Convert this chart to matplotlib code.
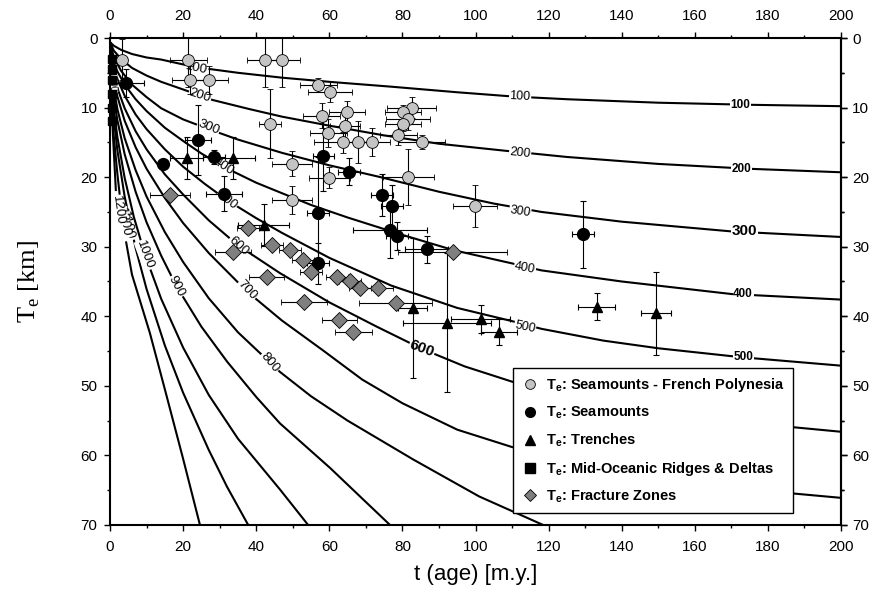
import matplotlib
matplotlib.use("Agg")
import matplotlib.pyplot as plt
from matplotlib.lines import Line2D

plt.rcParams["font.family"] = ["Liberation Sans", "DejaVu Sans"]
plt.rcParams["mathtext.fontset"] = "custom"
plt.rcParams["mathtext.rm"] = "Liberation Sans"
plt.rcParams["mathtext.bf"] = "Liberation Sans:bold"

# isotherms (deg C): age [m.y.] vs depth [km]
ISO_TEMPS = [100, 200, 300, 400, 500, 600, 700, 800, 900, 1000, 1100, 1200, 1300]

ISO_100_T = [0, 1, 3, 6, 10, 14, 20, 25, 35, 47, 60, 77, 95, 110, 125, 150, 175, 200]
ISO_100_Z = [0.6, 1.1, 1.7, 2.3, 2.8, 3.1, 3.8, 4.3, 5.0, 5.7, 6.3, 7.0, 7.8, 8.4, 8.8, 9.3, 9.6, 9.8]

ISO_200_T = [0, 1, 3, 6, 10, 14, 20, 28, 38, 47, 60, 75, 90, 108, 125, 150, 175, 200]
ISO_200_Z = [0.6, 1.8, 3.0, 4.3, 5.4, 6.3, 7.4, 8.9, 10.2, 11.3, 12.6, 14.0, 15.2, 16.2, 17.1, 18.1, 18.8, 19.3]

ISO_300_T = [0, 1, 3, 6, 10, 14, 20, 27, 35, 47, 60, 74, 90, 105, 118, 140, 170, 200]
ISO_300_Z = [0.6, 2.7, 4.7, 6.7, 8.5, 10.1, 11.7, 13.1, 14.6, 16.5, 18.3, 20.0, 22.1, 23.8, 25.0, 26.4, 27.8, 28.6]

ISO_400_T = [0, 1, 2, 4, 7, 10, 15, 20, 25, 31, 40, 47, 55, 65, 80, 94, 110, 118, 140, 170, 200]
ISO_400_Z = [0.6, 3.5, 4.8, 6.7, 8.8, 10.5, 12.9, 14.8, 16.6, 18.5, 20.8, 22.3, 24.0, 25.8, 28.3, 30.5, 32.4, 33.4, 35.0, 36.8, 37.6]

ISO_500_T = [0, 1, 2, 4, 7, 10, 15, 20, 26, 32, 40, 47, 60, 77, 95, 110, 118, 135, 150, 173, 200]
ISO_500_Z = [0.6, 4.2, 5.9, 8.3, 11.0, 13.1, 16.0, 18.5, 21.0, 23.3, 25.9, 28.0, 31.6, 35.6, 38.8, 40.7, 41.8, 43.5, 44.6, 45.9, 47.1]

ISO_600_T = [0, 1, 2, 4, 7, 10, 15, 20, 27, 35, 46.5, 60, 73, 85, 97, 110, 125, 140, 170, 200]
ISO_600_Z = [0.6, 5.1, 7.2, 10.1, 13.4, 16.0, 19.6, 22.5, 26.2, 29.8, 33.8, 38.0, 41.5, 44.6, 47.2, 49.4, 51.3, 52.8, 55.1, 56.6]

ISO_700_T = [0, 1, 2, 4, 7, 10, 15, 20, 27, 37.4, 47, 58, 69, 80, 95, 110, 130, 150, 175, 200]
ISO_700_Z = [0.6, 6.0, 8.4, 11.9, 15.7, 18.8, 23.0, 26.6, 30.9, 36.4, 40.6, 44.8, 49.1, 52.5, 56.3, 58.8, 61.3, 63.2, 64.9, 66.1]

ISO_800_T = [0, 1, 2, 4, 7, 10, 15, 20, 27, 35, 46.5, 55, 65, 83, 101, 118.5]
ISO_800_Z = [0.6, 7.2, 10.2, 14.4, 19.0, 22.8, 27.9, 32.2, 37.4, 42.3, 48.0, 51.5, 55.0, 60.6, 65.9, 70.0]

ISO_900_T = [0, 0.5, 1, 2, 4, 7, 10, 14, 18.2, 25, 32, 40, 46.5, 60.2, 76.6]
ISO_900_Z = [0.6, 5.9, 8.4, 11.8, 16.7, 22.1, 26.5, 31.3, 35.7, 41.5, 46.5, 51.6, 55.4, 61.8, 70.0]

ISO_1000_T = [0, 0.5, 1, 2, 4, 6.5, 9.6, 14, 20, 27, 35, 46.5, 54.2]
ISO_1000_Z = [0.6, 7.1, 10.1, 14.2, 20.1, 25.7, 31.2, 37.5, 44.5, 51.3, 57.6, 64.9, 70.0]

ISO_1100_T = [0, 0.5, 1, 2, 4, 7, 10, 15, 20, 27, 32, 37.8]
ISO_1100_Z = [0.6, 8.1, 11.4, 16.1, 22.8, 30.2, 36.1, 44.2, 51.0, 59.2, 64.5, 70.0]

ISO_1200_T = [0, 0.5, 1, 2, 3.6, 6, 10.9, 15, 20, 24.6]
ISO_1200_Z = [0.6, 10.0, 14.0, 19.5, 27.0, 34.0, 42.4, 50.5, 60.5, 70.0]

ISO_1300_T = [0, 0.3, 0.8, 1.2, 1.6]
ISO_1300_Z = [0.6, 8.0, 14.0, 18.0, 22.0]

ISO_T = [ISO_100_T, ISO_200_T, ISO_300_T, ISO_400_T, ISO_500_T, ISO_600_T, ISO_700_T,
         ISO_800_T, ISO_900_T, ISO_1000_T, ISO_1100_T, ISO_1200_T, ISO_1300_T]
ISO_Z = [ISO_100_Z, ISO_200_Z, ISO_300_Z, ISO_400_Z, ISO_500_Z, ISO_600_Z, ISO_700_Z,
         ISO_800_Z, ISO_900_Z, ISO_1000_Z, ISO_1100_Z, ISO_1200_Z, ISO_1300_Z]

# Te estimates: age, Te, age error, Te error
FP_T = [3.2, 21.4, 21.9, 27.2, 42.4, 47.0, 43.8, 49.7, 49.7, 57.0, 60.2, 57.9, 64.8, 64.3,
        59.7, 63.8, 67.9, 71.6, 82.5, 80.2, 81.6, 80.2, 78.9, 85.3, 81.6, 99.9, 60.0]
FP_Z = [3.1, 3.1, 6.0, 6.0, 3.1, 3.1, 12.3, 18.1, 23.3, 6.8, 7.7, 11.2, 10.6, 12.6,
        13.7, 15.0, 15.0, 15.0, 10.0, 10.6, 11.7, 12.4, 13.9, 15.0, 20.0, 24.1, 20.1]
FP_TERR = [1.5, 5, 5, 5, 5, 5, 3, 5.5, 5.5, 5, 6, 5, 5, 4,
           5, 8, 4, 5, 6.8, 5, 6, 5, 5, 6.4, 7, 6, 5.6]
FP_ZERR = [3, 4, 2, 2, 4, 4, 5, 1.8, 2, 1, 1.5, 1.8, 1.5, 2,
           2, 1.5, 3, 2, 1.5, 1, 1.5, 1, 1.5, 1, 4, 3, 1.5]

SM_T = [4.4, 14.4, 24.0, 28.5, 31.2, 58.4, 65.5, 56.8, 74.5, 77.2, 76.6, 78.4, 86.6, 57.0, 129.5]
SM_Z = [6.5, 18.1, 14.7, 17.1, 22.4, 17.0, 19.2, 25.1, 22.6, 24.2, 27.6, 28.5, 30.4, 32.4, 28.2]
SM_TERR = [5, 0, 3.5, 3, 5, 3, 3, 3, 3, 3, 10, 3, 6, 3, 3]
SM_ZERR = [2, 0, 5, 1, 2.5, 5, 2, 8, 3, 3, 4, 2, 2, 3, 4.8]

TR_T = [21.0, 33.7, 42.0, 82.8, 92.1, 101.4, 106.4, 133.1, 149.4]
TR_Z = [17.2, 17.2, 26.9, 38.8, 40.9, 40.4, 42.2, 38.6, 39.6]
TR_TERR = [4.5, 6, 7, 4, 12, 8, 5, 5, 4]
TR_ZERR = [3, 3, 3, 10, 10, 2, 2, 2, 6]

MOR_T = [0.5, 0.5, 0.5, 0.5, 0.5, 0.5]
MOR_Z = [3.0, 4.5, 6.0, 8.0, 10.0, 12.0]

FZ_T = [16.4, 37.8, 33.7, 44.2, 49.2, 42.9, 52.9, 54.9, 62.0, 65.7, 68.4, 73.4, 78.2,
        53.1, 62.7, 66.6, 93.7]
FZ_Z = [22.6, 27.3, 30.8, 29.7, 30.5, 34.3, 31.9, 33.6, 34.4, 35.0, 36.0, 36.0, 38.1,
        37.9, 40.6, 42.3, 30.7]
FZ_TERR = [5.5, 3, 5, 3, 3, 4.8, 3, 3, 3, 3, 3, 4, 10, 6.3, 4.8, 5, 15]

LEGEND_LABELS = [
    r"$\mathbf{T_e}$: Seamounts - French Polynesia",
    r"$\mathbf{T_e}$: Seamounts",
    r"$\mathbf{T_e}$: Trenches",
    r"$\mathbf{T_e}$: Mid-Oceanic Ridges & Deltas",
    r"$\mathbf{T_e}$: Fracture Zones",
]

fig = plt.figure(figsize=(8.74, 5.92), dpi=100)
ax = fig.add_axes([0.1259, 0.1132, 0.8364, 0.8226])

for ts, zs in zip(ISO_T, ISO_Z):
    ax.plot(ts, zs, color="black", lw=1.5, zorder=1, solid_capstyle="butt")

# contour labels: (age, depth, text, rotation, size, weight)
iso_labels = [
    (23.7, 4.3, "100", -12, 9.5, "normal"),
    (24.6, 8.3, "200", -18, 9.5, "normal"),
    (26.9, 12.9, "300", -22, 9.5, "normal"),
    (31.0, 18.4, "400", -33, 9.5, "normal"),
    (31.9, 23.4, "500", -38, 9.5, "normal"),
    (35.1, 29.9, "600", -42, 9.5, "normal"),
    (37.4, 36.3, "700", -47, 9.5, "normal"),
    (43.8, 46.6, "800", -50, 9.5, "normal"),
    (18.2, 35.7, "900", -62, 9.5, "normal"),
    (9.6, 31.2, "1000", -70, 9.5, "normal"),
    (4.6, 27.0, "1100", -78, 9.5, "normal"),
    (3.6, 26.5, "1300", -80, 9.5, "normal"),
    (2.2, 24.8, "1200", -82, 9.5, "normal"),
    (0.6, 6.6, "500", -86, 7, "normal"),
    (112.2, 8.4, "100", -3, 9, "normal"),
    (112.2, 16.5, "200", -6, 9, "normal"),
    (112.2, 24.9, "300", -9, 9, "normal"),
    (113.5, 33.1, "400", -11, 9, "normal"),
    (113.5, 41.6, "500", -12, 9, "normal"),
    (85.3, 44.7, "600", -20, 11, "bold"),
    (172.4, 9.6, "100", 0, 8.5, "bold"),
    (172.8, 18.9, "200", 0, 8.5, "bold"),
    (173.7, 27.7, "300", 0, 11, "bold"),
    (173.2, 36.8, "400", 0, 8.5, "bold"),
    (173.2, 45.8, "500", 0, 8.5, "bold"),
]
for t, z, s, rot, size, weight in iso_labels:
    ax.text(t, z, s, rotation=rot, fontsize=size, fontweight=weight, ha="center", va="center",
            rotation_mode="anchor", zorder=2,
            bbox=dict(boxstyle="square,pad=0.05", fc="white", ec="none"))

eb = dict(ecolor="black", elinewidth=0.8, capsize=2.5, capthick=0.8, linestyle="none", zorder=3)
ax.errorbar(FP_T, FP_Z, xerr=FP_TERR, yerr=FP_ZERR, fmt="o", ms=8.5, mfc="#c4c4c4",
            mec="black", mew=0.6, **eb)
ax.errorbar(SM_T, SM_Z, xerr=SM_TERR, yerr=SM_ZERR, fmt="o", ms=8.5, mfc="black",
            mec="black", **eb)
ax.errorbar(TR_T, TR_Z, xerr=TR_TERR, yerr=TR_ZERR, fmt="^", ms=7.5, mfc="black",
            mec="black", **eb)
ax.plot(MOR_T, MOR_Z, "s", ms=6, color="black", zorder=3, clip_on=False)
ax.errorbar(FZ_T, FZ_Z, xerr=FZ_TERR, fmt="D", ms=8, mfc="#7f7f7f", mec="black",
            mew=0.6, **eb)

ax.set_xlim(0, 200)
ax.set_ylim(70, 0)
ax.set_xticks(range(0, 201, 20))
ax.set_xticks(range(0, 201, 10), minor=True)
ax.set_yticks(range(0, 71, 10))
ax.set_yticks(range(0, 71, 5), minor=True)
ax.tick_params(which="both", direction="out", top=True, right=True, labeltop=True,
               labelsize=11, width=1)
ax.tick_params(which="major", length=4)
ax.tick_params(which="minor", length=2.5)
ax.tick_params(axis="x", pad=7)
ax.tick_params(axis="y", pad=5)
ax.tick_params(axis="y", labelright=False)
for sp in ax.spines.values():
    sp.set_linewidth(1.5)

sec = ax.secondary_yaxis("right")
sec.set_yticks(range(0, 71, 10))
sec.set_yticks(range(0, 71, 5), minor=True)
sec.tick_params(which="both", direction="out", labelsize=11, width=1, pad=4)
sec.tick_params(which="major", length=4)
sec.tick_params(which="minor", length=2.5)
sec.spines["right"].set_linewidth(1.5)

ax.set_xlabel("t (age) [m.y.]", fontsize=16, labelpad=7)
ax.set_ylabel(r"T$_\mathregular{e}$ [km]", fontsize=19, family="Liberation Serif", labelpad=28)

handles = [
    Line2D([], [], marker="o", ls="none", ms=7, mfc="#c4c4c4", mec="black", mew=0.6),
    Line2D([], [], marker="o", ls="none", ms=7, mfc="black", mec="black"),
    Line2D([], [], marker="^", ls="none", ms=7, mfc="black", mec="black"),
    Line2D([], [], marker="s", ls="none", ms=6.5, mfc="black", mec="black"),
    Line2D([], [], marker="D", ls="none", ms=6.5, mfc="#7f7f7f", mec="black", mew=0.6),
]
leg = ax.legend(handles, LEGEND_LABELS, loc="upper left", bbox_to_anchor=(0.551, 0.322),
                borderaxespad=0, fancybox=False, framealpha=1, edgecolor="black",
                prop=dict(size=10.5, weight="bold"), handletextpad=0.4, labelspacing=0.73,
                handlelength=1.3, borderpad=0.55)
leg.get_frame().set_linewidth(1)
leg.set_zorder(5)

fig.savefig("out.png", dpi=100)
